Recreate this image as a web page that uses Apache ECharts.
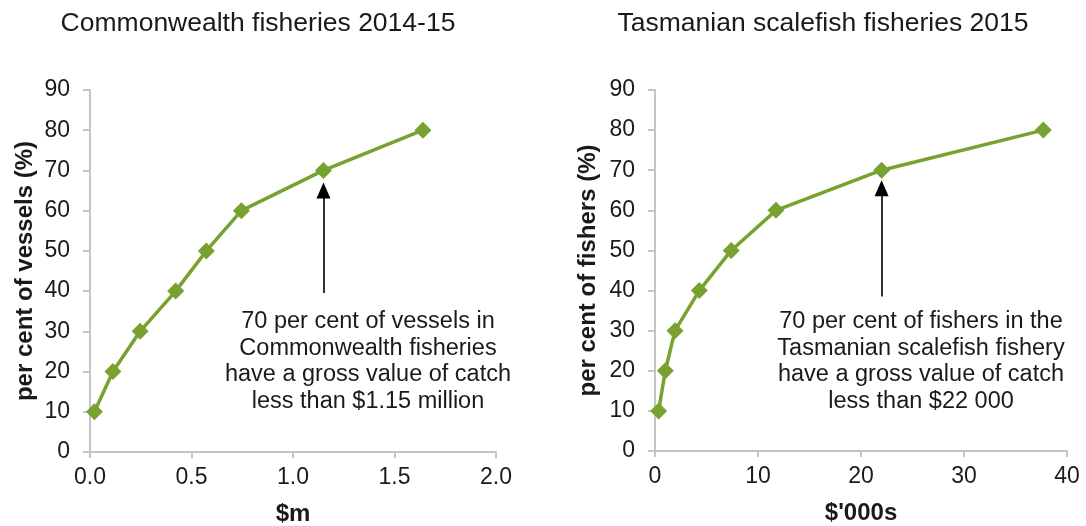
<!DOCTYPE html>
<html>
<head>
<meta charset="utf-8">
<script src="https://cdn.jsdelivr.net/npm/echarts@6/dist/echarts.min.js"></script>
<style>html,body{margin:0;padding:0;background:#fff}#c{width:1086px;height:526px}</style>
</head>
<body>
<div id="c"></div>
<script>
// ---- data ----
var pctLevels = [10, 20, 30, 40, 50, 60, 70, 80];
var commonwealthValues = [0.022, 0.113, 0.247, 0.422, 0.573, 0.746, 1.15, 1.64]; // $m
var tasmanianValues = [0.35, 1.0, 1.94, 4.3, 7.4, 11.75, 22, 37.7];              // $'000s
var titles = ['Commonwealth fisheries 2014-15', 'Tasmanian scalefish fisheries 2015'];
var xNames = ['$m', "$'000s"];
var yNames = ['per cent of vessels (%)', 'per cent of fishers (%)'];
var arrowCom = {x: 1.15, from: 39.5, to: 65};
var arrowTas = {x: 22, from: 38.5, to: 65.5};
var noteCom = ['70 per cent of vessels in', 'Commonwealth fisheries', 'have a gross value of catch', 'less than $1.15 million'];
var noteTas = ['70 per cent of fishers in the', 'Tasmanian scalefish fishery', 'have a gross value of catch', 'less than $22 000'];

var FONT = "'Liberation Sans', Arial, sans-serif";
var GREEN = '#77a22f';
var AX = '#c4c4c4';

function pairs(xs, ys) { return xs.map(function (x, i) { return [x, ys[i]]; }); }

function xAxis(idx, max, interval, fmt, name) {
  return {
    type: 'value', gridIndex: idx, min: 0, max: max, interval: interval,
    name: name, nameLocation: 'middle', nameGap: 50,
    nameTextStyle: {fontFamily: FONT, fontSize: 24, fontWeight: 'bold', color: '#1a1a1a'},
    axisLine: {show: true, onZero: false, lineStyle: {color: AX, width: 2}},
    axisTick: {show: true, inside: false, length: 6, lineStyle: {color: AX, width: 2}},
    axisLabel: {fontFamily: FONT, fontSize: 23, color: '#1a1a1a', margin: 14, formatter: fmt},
    splitLine: {show: false}
  };
}
function yAxis(idx, name, gap) {
  return {
    type: 'value', gridIndex: idx, min: 0, max: 90, interval: 10,
    name: name, nameLocation: 'middle', nameGap: gap, nameRotate: 90,
    nameTextStyle: {fontFamily: FONT, fontSize: 24, fontWeight: 'bold', color: '#1a1a1a'},
    axisLine: {show: true, lineStyle: {color: AX, width: 2}},
    axisTick: {show: true, inside: false, length: 7, lineStyle: {color: AX, width: 2}},
    axisLabel: {fontFamily: FONT, fontSize: 23, color: '#1a1a1a', margin: 20},
    splitLine: {show: false}
  };
}
function series(idx, data, arrow) {
  return {
    type: 'line', xAxisIndex: idx, yAxisIndex: idx, data: data,
    symbol: 'diamond', symbolSize: 17, color: GREEN,
    lineStyle: {color: GREEN, width: 3.5}, itemStyle: {color: GREEN},
    animation: false,
    markLine: {
      silent: true, animation: false,
      symbol: ['none', 'triangle'], symbolSize: [14, 16],
      label: {show: false},
      lineStyle: {color: '#000', width: 1.6, type: 'solid'},
      data: [[{coord: [arrow.x, arrow.from]}, {coord: [arrow.x, arrow.to]}]]
    }
  };
}
function note(lines, cx, top) {
  return {
    type: 'text', x: cx, y: top, silent: true,
    style: {text: lines.join('\n'), font: '23.5px ' + FONT, fill: '#1a1a1a',
            textAlign: 'center', textVerticalAlign: 'top', lineHeight: 26.5}
  };
}

var chart = echarts.init(document.getElementById('c'));
chart.setOption({
  backgroundColor: '#fff',
  animation: false,
  title: [
    {text: titles[0], left: 258, top: 10, textAlign: 'center', padding: 0,
     textStyle: {fontFamily: FONT, fontSize: 26.5, fontWeight: 'normal', color: '#1a1a1a'}},
    {text: titles[1], left: 823, top: 10, textAlign: 'center', padding: 0,
     textStyle: {fontFamily: FONT, fontSize: 26.5, fontWeight: 'normal', color: '#1a1a1a'}}
  ],
  grid: [
    {left: 90, top: 90, width: 406, height: 362, outerBoundsMode: 'none', containLabel: false},
    {left: 655, top: 90, width: 412, height: 361, outerBoundsMode: 'none', containLabel: false}
  ],
  xAxis: [
    xAxis(0, 2, 0.5, function (v) { return v.toFixed(1); }, xNames[0]),
    xAxis(1, 40, 10, null, xNames[1])
  ],
  yAxis: [yAxis(0, yNames[0], 53), yAxis(1, yNames[1], 55)],
  series: [
    series(0, pairs(commonwealthValues, pctLevels), arrowCom),
    series(1, pairs(tasmanianValues, pctLevels), arrowTas)
  ],
  graphic: [note(noteCom, 368, 308.5), note(noteTas, 921, 308.5)]
});
</script>
</body>
</html>
